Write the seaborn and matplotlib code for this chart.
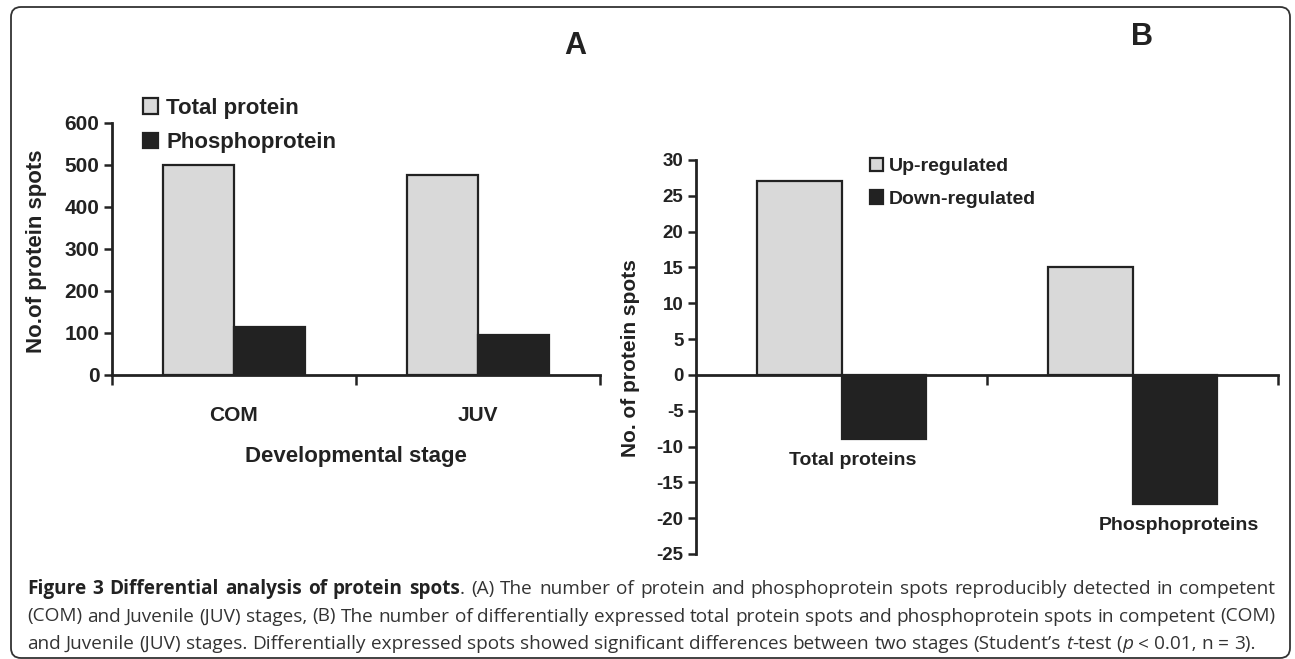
import pandas as pd
import seaborn as sns
import matplotlib.pyplot as plt
from matplotlib.patches import FancyBboxPatch
from matplotlib.transforms import IdentityTransform

# Panel A: spots detected in each developmental stage
stages = ['COM', 'JUV']
total_protein = [500, 475]
phosphoprotein = [114, 96]
series_a = ['Total protein', 'Phosphoprotein']
yticks_a = [0, 100, 200, 300, 400, 500, 600]

# Panel B: differentially expressed spots
groups = ['Total proteins', 'Phosphoproteins']
up_regulated = [27, 15]
down_regulated = [-9, -18]
series_b = ['Up-regulated', 'Down-regulated']
yticks_b = [-25, -20, -15, -10, -5, 0, 5, 10, 15, 20, 25, 30]

caption_lines = [
    [("Figure 3 Differential analysis of protein spots", 'bold', 'normal'),
     (". (A) The number of protein and phosphoprotein spots reproducibly detected in competent", 'normal', 'normal')],
    [("(COM) and Juvenile (JUV) stages, (B) The number of differentially expressed total protein spots "
      "and phosphoprotein spots in competent (COM)", 'normal', 'normal')],
    [("and Juvenile (JUV) stages. Differentially expressed spots showed significant differences between "
      "two stages (Student\u2019s ", 'normal', 'normal'),
     ("t", 'normal', 'italic'), ("-test (", 'normal', 'normal'), ("p", 'normal', 'italic'),
     (" < 0.01, n = 3).", 'normal', 'normal')],
]

sns.set_style('ticks')
plt.rcParams['font.family'] = ['Liberation Sans', 'DejaVu Sans']
plt.rcParams['font.weight'] = 'bold'
plt.rcParams['axes.labelweight'] = 'bold'
plt.rcParams['axes.unicode_minus'] = False

ink = '#222222'
light = '#d9d9d9'
W, H = 1295, 659

fig = plt.figure(figsize=(W / 100, H / 100), dpi=100)
ax_a = fig.add_axes([112 / W, 284 / H, 488 / W, 252 / H])
ax_b = fig.add_axes([696 / W, 105 / H, 582 / W, 394 / H])

df_a = pd.DataFrame({
    'stage': stages * 2,
    'spots': total_protein + phosphoprotein,
    'type': [series_a[0]] * 2 + [series_a[1]] * 2,
})
df_b = pd.DataFrame({
    'group': groups * 2,
    'spots': up_regulated + down_regulated,
    'type': [series_b[0]] * 2 + [series_b[1]] * 2,
})

sns.barplot(data=df_a, x='stage', y='spots', hue='type', palette=[light, ink],
            width=0.58, gap=0, saturation=1, errorbar=None, legend=False,
            edgecolor=ink, linewidth=1.6, ax=ax_a)
sns.barplot(data=df_b, x='group', y='spots', hue='type', palette=[light, ink],
            width=0.58, gap=0, saturation=1, errorbar=None, legend=False,
            edgecolor=ink, linewidth=1.6, ax=ax_b)

for ax in (ax_a, ax_b):
    sns.despine(ax=ax)
    for side in ('left', 'bottom'):
        ax.spines[side].set_linewidth(2)
        ax.spines[side].set_color(ink)
        ax.spines[side].set_zorder(5)
    ax.set_xlim(-0.5, 1.5)
    ax.tick_params(axis='x', which='minor', length=7, width=1.8, color=ink, direction='out')
    ax.tick_params(axis='y', length=6, width=1.8, color=ink, direction='out', pad=3, labelcolor=ink)
    ax.set_facecolor('none')

# panel A axes
ax_a.set_ylim(0, 600)
ax_a.set_yticks(yticks_a)
ax_a.set_xticks([-0.5, 0.5, 1.5], minor=True)
ax_a.tick_params(axis='y', labelsize=15)
ax_a.tick_params(axis='x', which='major', length=0, pad=22, labelsize=15, labelcolor=ink)
ax_a.set_ylabel('No.of protein spots', fontsize=16, color=ink)
ax_a.yaxis.set_label_coords(-0.155, 0.492)
ax_a.yaxis.label.set_va('center')
ax_a.set_xlabel('Developmental stage', fontsize=16, color=ink)
ax_a.xaxis.set_label_coords(0.5, -0.325)
ax_a.xaxis.label.set_va('center')
ax_a.legend([ax_a.containers[0][0], ax_a.containers[1][0]], series_a,
            loc='upper left', bbox_to_anchor=(134 / W, 1 - 89 / H),
            bbox_transform=fig.transFigure, frameon=False, fontsize=16,
            handlelength=0.7, handleheight=0.7, handletextpad=0.35,
            labelspacing=0.6, borderaxespad=0, labelcolor=ink)

# panel B axes
ax_b.set_ylim(-25, 30)
ax_b.set_yticks(yticks_b)
ax_b.set_xticks([0.5, 1.5], minor=True)
ax_b.tick_params(axis='y', labelsize=13.5)
ax_b.spines['bottom'].set_position(('data', 0))
ax_b.set_xticks([0, 1], ['', ''])
ax_b.tick_params(axis='x', which='major', length=0)
ax_b.set_xlabel('')
ax_b.set_ylabel('No. of protein spots', fontsize=15, color=ink)
ax_b.yaxis.set_label_coords(-0.113, 0.497)
ax_b.yaxis.label.set_va('center')
label_dx = [0.04, 0.16]
for i, name in enumerate(groups):
    ax_b.text(i + label_dx[i], down_regulated[i] - 3, name, ha='center', va='center',
              fontsize=14, color=ink)
ax_b.legend([ax_b.containers[0][0], ax_b.containers[1][0]], series_b,
            loc='upper left', bbox_to_anchor=(862 / W, 1 - 150 / H),
            bbox_transform=fig.transFigure, frameon=False, fontsize=14,
            handlelength=0.7, handleheight=0.7, handletextpad=0.3,
            labelspacing=0.75, borderaxespad=0, labelcolor=ink)

fig.text(575 / W, 1 - 46 / H, 'A', fontsize=22, ha='center', va='center', color=ink)
fig.text(1142 / W, 1 - 37 / H, 'B', fontsize=22, ha='center', va='center', color=ink)

# caption, justified like the journal layout
renderer = fig.canvas.get_renderer()
cap_font = ['Open Sans', 'DejaVu Sans']
cap_left, cap_right = 27, 1275


def text_width(s, size, weight, style):
    t = fig.text(0, 0, s, fontsize=size, fontweight=weight, fontstyle=style, family=cap_font)
    w = t.get_window_extent(renderer).width
    t.remove()
    return w


def split_words(runs):
    words, cur = [], []
    for s, weight, style in runs:
        parts = s.split(' ')
        for k, p in enumerate(parts):
            if k > 0 and cur:
                words.append(cur)
                cur = []
            if p:
                cur.append((p, weight, style))
    if cur:
        words.append(cur)
    return words


def line_words(runs, size):
    words = split_words(runs)
    widths = [[text_width(p, size, wt, st) for p, wt, st in w] for w in words]
    return words, widths


space_ref = text_width('a a', 10, 'normal', 'normal') - text_width('aa', 10, 'normal', 'normal')
sizes = []
for runs in caption_lines:
    words, widths = line_words(runs, 10)
    natural = sum(sum(w) for w in widths) + space_ref * (len(words) - 1)
    sizes.append(10 * (cap_right - cap_left) / natural)
cap_size = min(sizes)
space_w = space_ref * cap_size / 10

baselines = [594, 621.5, 649]
for li, runs in enumerate(caption_lines):
    words, widths = line_words(runs, cap_size)
    total = sum(sum(w) for w in widths)
    if li < len(caption_lines) - 1:
        gap = (cap_right - cap_left - total) / (len(words) - 1)
    else:
        gap = space_w
    x = cap_left
    for word, ws in zip(words, widths):
        for (p, wt, st), pw in zip(word, ws):
            fig.text(x / W, 1 - baselines[li] / H, p, fontsize=cap_size, fontweight=wt,
                     fontstyle=st, family=cap_font, va='baseline', ha='left',
                     color=ink if wt == 'bold' else '#333333')
            x += pw
        x += gap

border = FancyBboxPatch((11, 1), 1279, 651, boxstyle='round,pad=0,rounding_size=10',
                        transform=IdentityTransform(), fill=False, lw=1.3, ec='#333333')
fig.add_artist(border)

fig.savefig('out.png', dpi=100)
